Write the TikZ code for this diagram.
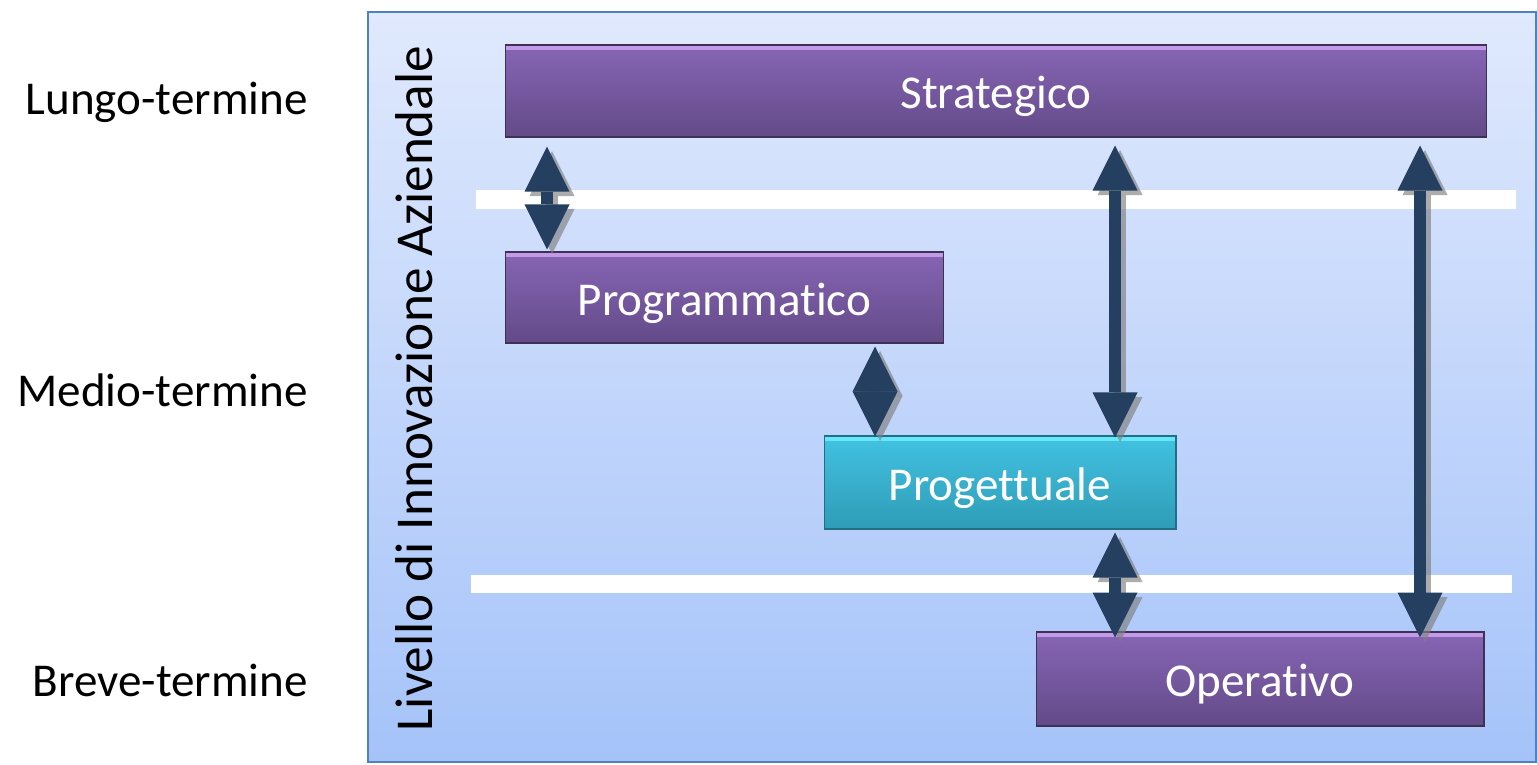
\documentclass[tikz,border=0pt]{standalone}
\usepackage{fontspec}
\setmainfont{Carlito}[Ligatures=CommonOff]
\usetikzlibrary{arrows.meta,calc}
\definecolor{bgtop}{HTML}{E0E9FD}
\definecolor{bgbot}{HTML}{A5C3F9}
\definecolor{bgborder}{HTML}{4F81BD}
\definecolor{navy}{HTML}{243F60}
\definecolor{purtop}{HTML}{8765B5}
\definecolor{purbot}{HTML}{634A88}
\definecolor{purlight}{HTML}{D2A8F5}
\definecolor{purborder}{HTML}{3F3151}
\definecolor{cyantop}{HTML}{42C2E2}
\definecolor{cyanbot}{HTML}{2E9CB6}
\definecolor{cyanlight}{HTML}{70F0FF}
\definecolor{cyanborder}{HTML}{216F80}
\newcommand\lowered[1]{\raisebox{-0.11cm}[\height][\depth]{#1}}
\begin{document}
\begin{tikzpicture}[x=0.02cm,y=-0.02cm,
  txt/.style={font=\fontsize{26.8}{32}\selectfont},
  lvl/.style={txt,text=white,inner sep=0pt,line width=0.6pt},
  purbox/.style={lvl,draw=purborder,top color=purtop,bottom color=purbot,
    path picture={\fill[purlight,opacity=0.8] (path picture bounding box.north west) rectangle ([yshift=-3pt]path picture bounding box.north east);}},
  cyanbox/.style={lvl,draw=cyanborder,top color=cyantop,bottom color=cyanbot,
    path picture={\fill[cyanlight,opacity=0.8] (path picture bounding box.north west) rectangle ([yshift=-3pt]path picture bounding box.north east);}},
  tipshape/.tip={Triangle[length=0.9cm,width=0.9cm,line width=0pt]},
  dbl/.style={line width=0.24cm,draw=navy,fill=navy,tipshape-tipshape},
  dblshadow/.style={line width=0.24cm,draw=gray,fill=gray,opacity=0.65,tipshape-tipshape},
  band/.style={fill=white}
]
\useasboundingbox (0,0) rectangle (1537,764);
\shade[top color=bgtop,bottom color=bgbot] (368,12) rectangle (1536,762);
\draw[bgborder,line width=1.2pt] (368,12) rectangle (1536,762);

% white bands
\fill[band] (476,190) rectangle (1516,209);
\fill[band] (471,575) rectangle (1512,593);

% left labels
\node[txt,anchor=east,inner sep=0pt] (lungo) at (308,102) {Lungo-termine};
\node[txt,anchor=east,inner sep=0pt] (medio) at (308,390) {Medio-termine};
\node[txt,anchor=east,inner sep=0pt] (breve) at (308,680) {Breve-termine};

% vertical label
\node[font=\fontsize{30.3}{36}\selectfont,rotate=90,inner sep=0pt,anchor=base] (livello) at (432,388.5) {Livello di Innovazione Aziendale};

% boxes
\node[purbox,minimum width=19.64cm,minimum height=1.84cm] (strat) at (996,91) {\lowered{Strategico}};
\node[purbox,minimum width=8.78cm,minimum height=1.82cm] (progr) at (724.5,297.5) {\lowered{Programmatico}};
\node[cyanbox,minimum width=7.04cm,minimum height=1.86cm] (proget) at (1000,482.5) {\lowered{Progettuale}};
\node[purbox,minimum width=8.96cm,minimum height=1.88cm] (oper) at (1260,679) {\lowered{Operativo}};

% arrow columns
\coordinate (c1) at (547,0);
\coordinate (c2) at (875,0);
\coordinate (c3) at (1115,0);
\coordinate (c4) at (1420,0);

% shadows
\begin{scope}[transform canvas={xshift=0.1cm,yshift=-0.09cm}]
\draw[dblshadow] ($(strat.south -| c1)+(0,9)$) -- ($(progr.north -| c1)+(0,-2)$);
\draw[dblshadow] ($(progr.south -| c2)+(0,3)$) -- ($(proget.north -| c2)+(0,1)$);
\draw[dblshadow] ($(strat.south -| c3)+(0,8)$) -- ($(proget.north -| c3)+(0,2)$);
\draw[dblshadow] ($(strat.south -| c4)+(0,8)$) -- ($(oper.north -| c4)+(0,6)$);
\draw[dblshadow] ($(proget.south -| c3)+(0,3)$) -- ($(oper.north -| c3)+(0,6)$);
\end{scope}

% arrows
\draw[dbl] ($(strat.south -| c1)+(0,9)$) -- ($(progr.north -| c1)+(0,-2)$);
\draw[dbl] ($(progr.south -| c2)+(0,3)$) -- ($(proget.north -| c2)+(0,1)$);
\draw[dbl] ($(strat.south -| c3)+(0,8)$) -- ($(proget.north -| c3)+(0,2)$);
\draw[dbl] ($(strat.south -| c4)+(0,8)$) -- ($(oper.north -| c4)+(0,6)$);
\draw[dbl] ($(proget.south -| c3)+(0,3)$) -- ($(oper.north -| c3)+(0,6)$);
\end{tikzpicture}
\end{document}
